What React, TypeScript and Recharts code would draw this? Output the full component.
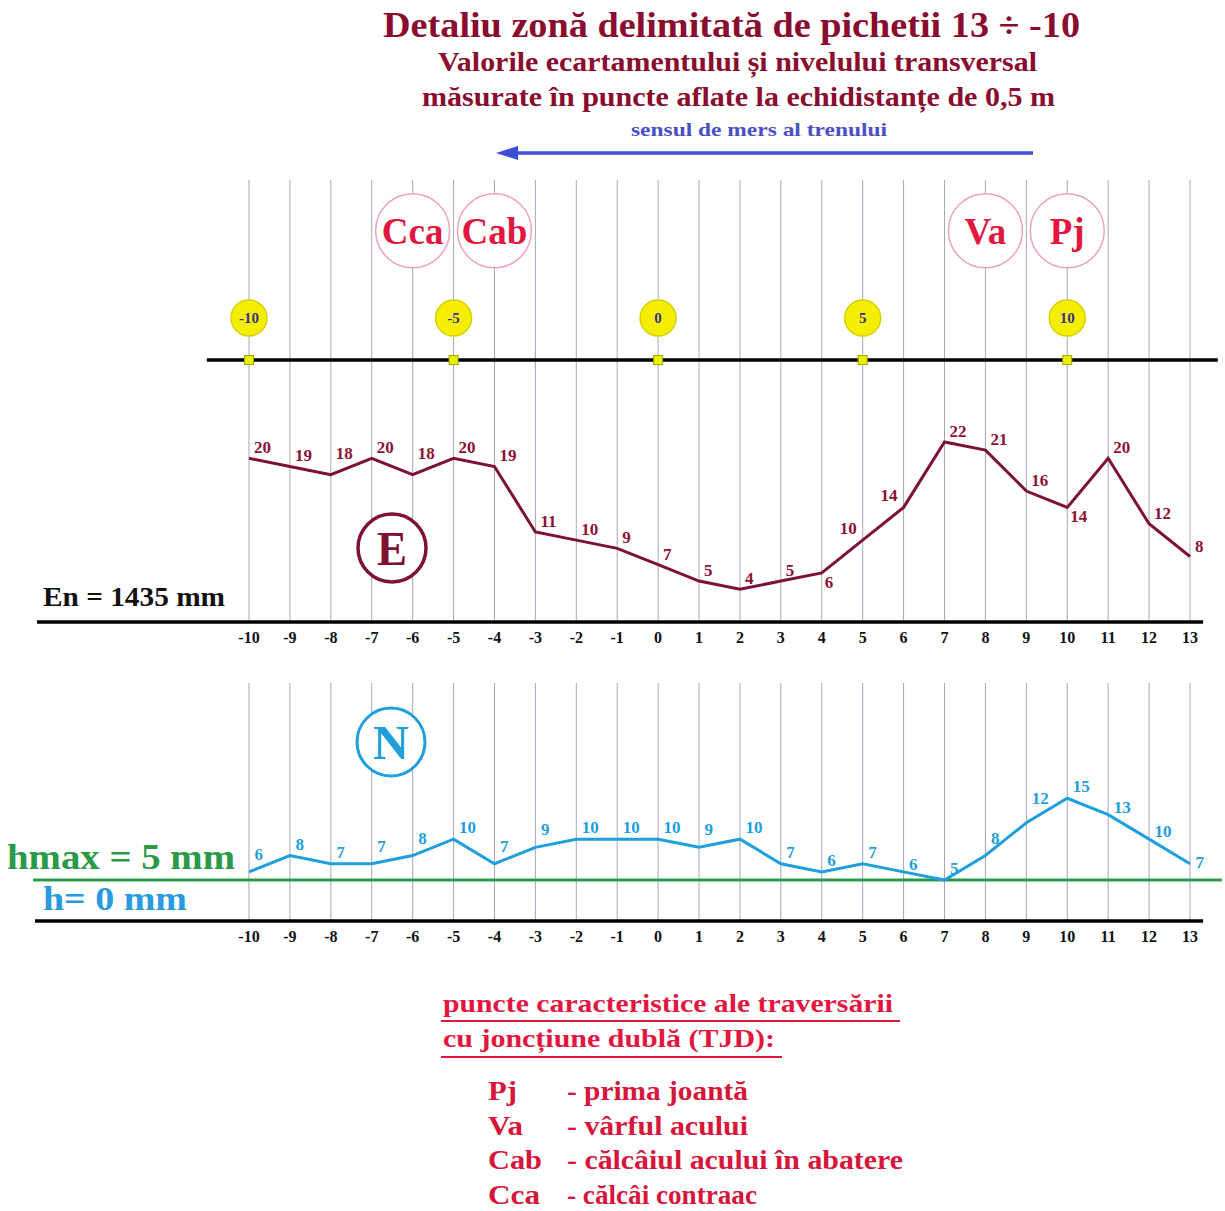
import React from "react";
import {
  LineChart,
  Line,
  XAxis,
  YAxis,
  ReferenceLine,
  ReferenceDot,
  LabelList,
} from "recharts";

// ---------- data ----------
const PICKETS = [-10, -9, -8, -7, -6, -5, -4, -3, -2, -1, 0, 1, 2, 3, 4, 5, 6, 7, 8, 9, 10, 11, 12, 13];
const GAUGE_E = [20, 19, 18, 20, 18, 20, 19, 11, 10, 9, 7, 5, 4, 5, 6, 10, 14, 22, 21, 16, 14, 20, 12, 8];
const CANT_N = [6, 8, 7, 7, 8, 10, 7, 9, 10, 10, 10, 9, 10, 7, 6, 7, 6, 5, 8, 12, 15, 13, 10, 7];
const STAKE_MARKS = [-10, -5, 0, 5, 10];
const FEATURE_X = [-6, -4, 8, 10];
const FEATURE_LABELS = ["Cca", "Cab", "Va", "Pj"];
const LEGEND_CODES = ["Pj", "Va", "Cab", "Cca"];
const LEGEND_TEXT = ["- prima joantă", "- vârful acului", "- călcâiul acului în abatere", "- călcâi contraac"];

// label placement codes (style only)
const E_SIDES = ["ur", "ur", "hi", "ur", "hi", "ur", "ur", "ur", "ur", "ur", "ur", "ur", "ur", "ur", "lr", "ul", "ul", "ur", "ur", "ur", "lr", "ur", "ur", "ur"];
const N_SIDES = ["hi", "ur", "ur", "hi", "hi", "ur", "hi", "hi", "ur", "ur", "ur", "hi", "ur", "ur", "ur", "ur", "lo", "ur", "hi", "top", "ur", "lo", "lo", "r"];
// text widths (style only)
const LEGEND_CODE_W = [29, 35, 54, 52];
const LEGEND_TEXT_W = [181, 181, 336, 190];

const rows = PICKETS.map((x, i) => ({ x, E: GAUGE_E[i], N: CANT_N[i] }));

// ---------- layout constants ----------
const X_DOMAIN: [number, number] = [-16.086, 13.856];
const SERIF = "'Liberation Serif', 'Times New Roman', serif";
const E_COLOR = "#7d1233";
const E_LABEL = "#8b1236";
const N_COLOR = "#1f9fdc";
const GRID = "#a6a6bc";
const RED = "#e2173f";
const TITLE = "#8a0c2e";

const Tick = (props: any) => (
  <text
    x={props.x}
    y={props.y + 21}
    textAnchor="middle"
    fontFamily={SERIF}
    fontWeight="bold"
    fontSize={16}
    fill="#111"
  >
    {props.payload.value}
  </text>
);

const eLabel = (props: any) => {
  const { x, y, value, index } = props;
  const side = E_SIDES[index] || "ur";
  let tx = x + 5;
  let ty = y - 5;
  let anchor: any = "start";
  if (side === "hi") ty = y - 16;
  if (side === "ul") {
    tx = x - 6;
    ty = y - 6;
    anchor = "end";
  }
  if (side === "lr") {
    tx = x + 3;
    ty = y + 15;
  }
  return (
    <text x={tx} y={ty} textAnchor={anchor} fontFamily={SERIF} fontWeight="bold" fontSize={17} fill={E_LABEL}>
      {value}
    </text>
  );
};

const nLabel = (props: any) => {
  const { x, y, value, index } = props;
  const side = N_SIDES[index] || "ur";
  const off: Record<string, number> = { ur: -6, hi: -12, top: -19, lo: -2, r: 4 };
  return (
    <text x={x + 5.5} y={y + (off[side] ?? -6)} textAnchor="start" fontFamily={SERIF} fontWeight="bold" fontSize={17} fill={N_COLOR}>
      {value}
    </text>
  );
};

const StakeCircle = (label: number) => (p: any) => (
  <g>
    <circle cx={p.cx} cy={p.cy} r={18} fill="#f4ef00" stroke="#d6d200" strokeWidth={1.5} />
    <text x={p.cx} y={p.cy + 5} textAnchor="middle" fontFamily={SERIF} fontWeight="bold" fontSize={15} fill="#3b2d8c">
      {label}
    </text>
  </g>
);

const StakeSquare = (p: any) => (
  <rect x={p.cx - 4.5} y={p.cy - 4.5} width={9} height={9} fill="#e6f000" stroke="#a6a600" strokeWidth={1} />
);

const FeatureCircle = (label: string) => (p: any) => (
  <g>
    <circle cx={p.cx} cy={p.cy} r={37} fill="#ffffff" stroke="#eea4b4" strokeWidth={1.5} />
    <text x={p.cx} y={p.cy + 13} textAnchor="middle" fontFamily={SERIF} fontWeight="bold" fontSize={37} fill={RED}>
      {label}
    </text>
  </g>
);

const gridLines = (prefix: string) =>
  PICKETS.map((p) => <ReferenceLine key={prefix + p} x={p} stroke={GRID} strokeWidth={1} />);

export default function App() {
  return (
    <div style={{ position: "absolute", left: 0, top: 0, width: 1225, height: 1211, background: "#fff", overflow: "hidden" }}>
      {/* Top chart: gauge E */}
      <div style={{ position: "absolute", left: 0, top: 0 }}>
        <LineChart width={1225} height={660} data={rows} margin={{ top: 180, right: 0, bottom: 0, left: 0 }}>
          <XAxis
            type="number"
            dataKey="x"
            domain={X_DOMAIN}
            ticks={PICKETS}
            allowDataOverflow
            axisLine={false}
            tickLine={false}
            tickSize={0}
            tickMargin={0}
            height={38}
            tick={<Tick />}
            interval={0}
          />
          <YAxis hide domain={[0, 54]} />
          {gridLines("gt")}
          <ReferenceLine segment={[{ x: -15.18, y: 0 }, { x: 13.32, y: 0 }]} stroke="#000" strokeWidth={3.5} ifOverflow="visible" />
          <ReferenceLine segment={[{ x: -11.03, y: 32 }, { x: 13.68, y: 32 }]} stroke="#000" strokeWidth={3.5} ifOverflow="visible" />
          {STAKE_MARKS.map((m) => (
            <ReferenceDot key={"sq" + m} x={m} y={32} r={5} shape={StakeSquare} ifOverflow="visible" />
          ))}
          {STAKE_MARKS.map((m) => (
            <ReferenceDot key={"sc" + m} x={m} y={37.14} r={18} shape={StakeCircle(m)} ifOverflow="visible" />
          ))}
          {FEATURE_X.map((fx, i) => (
            <ReferenceDot key={"f" + fx} x={fx} y={47.8} r={37} shape={FeatureCircle(FEATURE_LABELS[i])} ifOverflow="visible" />
          ))}
          <Line type="linear" dataKey="E" stroke={E_COLOR} strokeWidth={3} dot={false} isAnimationActive={false}>
            <LabelList dataKey="E" content={eLabel} />
          </Line>
        </LineChart>
      </div>

      {/* Bottom chart: cant N */}
      <div style={{ position: "absolute", left: 0, top: 660 }}>
        <LineChart width={1225} height={300} data={rows} margin={{ top: 23, right: 0, bottom: 0, left: 0 }}>
          <XAxis
            type="number"
            dataKey="x"
            domain={X_DOMAIN}
            ticks={PICKETS}
            allowDataOverflow
            axisLine={false}
            tickLine={false}
            tickSize={0}
            tickMargin={0}
            height={39}
            tick={<Tick />}
            interval={0}
          />
          <YAxis hide domain={[0, 29.08]} />
          {gridLines("gb")}
          <ReferenceLine segment={[{ x: -15.23, y: 0 }, { x: 13.32, y: 0 }]} stroke="#000" strokeWidth={3.5} ifOverflow="visible" />
          <ReferenceLine segment={[{ x: -15.28, y: 5 }, { x: 13.78, y: 5 }]} stroke="#2a9a48" strokeWidth={3} ifOverflow="visible" />
          <Line type="linear" dataKey="N" stroke={N_COLOR} strokeWidth={3} dot={false} isAnimationActive={false}>
            <LabelList dataKey="N" content={nLabel} />
          </Line>
        </LineChart>
      </div>

      {/* Texts & annotations */}
      <svg width={1225} height={1211} style={{ position: "absolute", left: 0, top: 0, pointerEvents: "none" }}>
        <g fontFamily={SERIF} fontWeight="bold">
          <text x={383} y={37} fontSize={36} fill={TITLE} textLength={697} lengthAdjust="spacingAndGlyphs">
            Detaliu zonă delimitată de pichetii 13 ÷ -10
          </text>
          <text x={438} y={71} fontSize={27} fill={TITLE} textLength={599} lengthAdjust="spacingAndGlyphs">
            Valorile ecartamentului și nivelului transversal
          </text>
          <text x={422} y={106} fontSize={27} fill={TITLE} textLength={633} lengthAdjust="spacingAndGlyphs">
            măsurate în puncte aflate la echidistanțe de 0,5 m
          </text>
          <text x={631} y={136} fontSize={19} fill="#4a50c4" textLength={256} lengthAdjust="spacingAndGlyphs">
            sensul de mers al trenului
          </text>
        </g>
        <line x1={1033} y1={153} x2={512} y2={153} stroke="#3d4ed6" strokeWidth={3.5} />
        <polygon points="496,153 518,146 518,160" fill="#3d4ed6" />

        {/* E badge */}
        <circle cx={392} cy={548} r={34} fill="#fff" stroke={E_COLOR} strokeWidth={3.5} />
        <text x={392} y={565} textAnchor="middle" fontFamily={SERIF} fontWeight="bold" fontSize={48} fill={E_COLOR} textLength={30} lengthAdjust="spacingAndGlyphs">
          E
        </text>
        <text x={43} y={606} fontFamily={SERIF} fontWeight="bold" fontSize={27} fill="#111" textLength={182} lengthAdjust="spacingAndGlyphs">
          En = 1435 mm
        </text>

        {/* N badge */}
        <circle cx={391} cy={742} r={34} fill="#fff" stroke={N_COLOR} strokeWidth={3} />
        <text x={391} y={759} textAnchor="middle" fontFamily={SERIF} fontWeight="bold" fontSize={48} fill={N_COLOR} textLength={36} lengthAdjust="spacingAndGlyphs">
          N
        </text>
        <text x={7} y={869} fontFamily={SERIF} fontWeight="bold" fontSize={36} fill="#2a9a48" textLength={228} lengthAdjust="spacingAndGlyphs">
          hmax = 5 mm
        </text>
        <text x={43} y={910} fontFamily={SERIF} fontWeight="bold" fontSize={34} fill="#2a9ae0" textLength={144} lengthAdjust="spacingAndGlyphs">
          h= 0 mm
        </text>

        {/* legend */}
        <g fontFamily={SERIF} fontWeight="bold" fill={RED}>
          <text x={443} y={1012} fontSize={26} textLength={450} lengthAdjust="spacingAndGlyphs">
            puncte caracteristice ale traversării
          </text>
          <line x1={441} y1={1021} x2={900} y2={1021} stroke={RED} strokeWidth={2} />
          <text x={443} y={1047} fontSize={26} textLength={332} lengthAdjust="spacingAndGlyphs">
            cu joncțiune dublă (TJD):
          </text>
          <line x1={441} y1={1057} x2={782} y2={1057} stroke={RED} strokeWidth={2} />
          {LEGEND_CODES.map((c, i) => (
            <text key={c} x={488} y={1100 + i * 34.7} fontSize={27} fill="#d6163b" textLength={LEGEND_CODE_W[i]} lengthAdjust="spacingAndGlyphs">
              {c}
            </text>
          ))}
          {LEGEND_TEXT.map((t, i) => (
            <text key={t} x={567} y={1100 + i * 34.7} fontSize={27} fill="#d6163b" textLength={LEGEND_TEXT_W[i]} lengthAdjust="spacingAndGlyphs">
              {t}
            </text>
          ))}
        </g>
      </svg>
    </div>
  );
}
